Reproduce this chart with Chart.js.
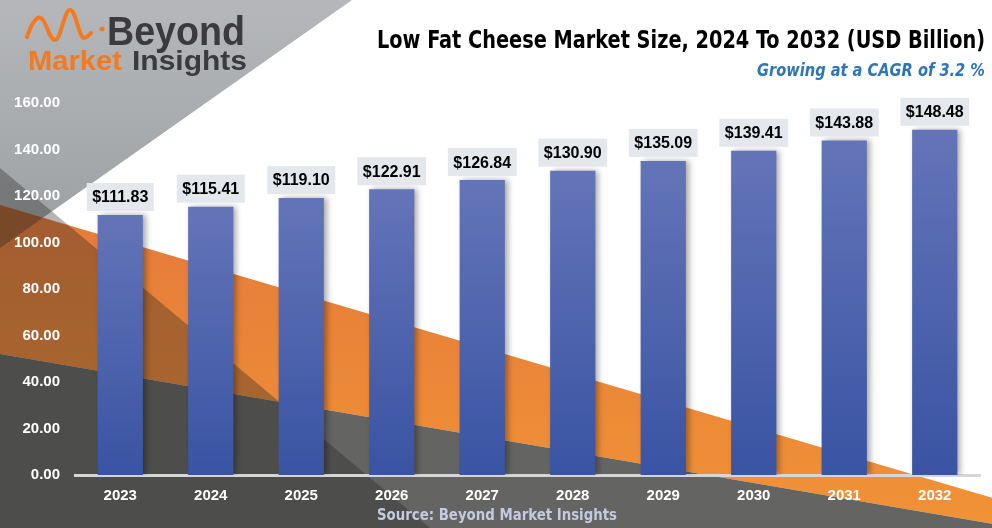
<!DOCTYPE html>
<html>
<head>
<meta charset="utf-8">
<script src="https://cdn.jsdelivr.net/npm/chart.js@4.4.1/dist/chart.umd.min.js"></script>
<style>
  html, body { margin: 0; padding: 0; background: #fff; overflow: hidden; }
  canvas { display: block; }
</style>
</head>
<body>
<canvas id="marketChart" width="992" height="528"></canvas>
<script>
// chart data
const years = ['2023', '2024', '2025', '2026', '2027', '2028', '2029', '2030', '2031', '2032'];
const marketSize = [111.83, 115.41, 119.10, 122.91, 126.84, 130.90, 135.09, 139.41, 143.88, 148.48];
const yMin = 0;
const yMax = 160;
const yStep = 20;

const titleText = 'Low Fat Cheese Market Size, 2024 To 2032 (USD Billion)';
const subtitleText = 'Growing at a CAGR of 3.2 %';
const sourceText = 'Source: Beyond Market Insights';

const SANS = '"Liberation Sans", Arial, sans-serif';
const NARROW = '"Liberation Sans Narrow", "DejaVu Sans Condensed", "Liberation Sans", sans-serif';

function poly(c, pts) {
    c.beginPath();
    c.moveTo(pts[0][0], pts[0][1]);
    for (let i = 1; i < pts.length; i++) c.lineTo(pts[i][0], pts[i][1]);
    c.closePath();
}

// squeeze or stretch text horizontally so it covers the given width
function fitText(c, text, x, y, width, align) {
    const w = c.measureText(text).width;
    c.save();
    c.translate(x, y);
    c.scale(width / w, 1);
    c.textAlign = align;
    c.fillText(text, 0, 0);
    c.restore();
}

// decorative background shapes
const backdrop = {
    id: 'backdrop',
    beforeDraw(chart) {
        const c = chart.ctx, W = chart.width, H = chart.height;
        const bandTop = x => 205 + 0.295 * x;
        const bandBot = x => 354 + 0.171 * x;
        const tri = [[0, 0], [352, 0], [0, 248]];
        const band = [[0, bandTop(0)], [W, bandTop(W)], [W, bandBot(W)], [0, bandBot(0)]];
        c.save();
        c.fillStyle = '#fff';
        c.fillRect(0, 0, W, H);

        let g = c.createLinearGradient(0, 0, 0, 250);
        g.addColorStop(0, '#b5b7ba');
        g.addColorStop(1, '#9c9fa2');
        poly(c, tri);
        c.fillStyle = g;
        c.fill();

        g = c.createLinearGradient(0, 200, 0, 520);
        g.addColorStop(0, '#e47a3a');
        g.addColorStop(1, '#f19236');
        poly(c, band);
        c.fillStyle = g;
        c.fill();

        c.save();
        poly(c, tri);
        c.clip();
        poly(c, band);
        c.fillStyle = 'rgba(70,50,30,0.4)';
        c.fill();
        c.restore();

        poly(c, [[0, bandBot(0)], [W, bandBot(W)], [W, H], [0, H]]);
        c.fillStyle = '#646463';
        c.fill();

        poly(c, [[0, 168], [430, 528], [0, 528]]);
        c.fillStyle = 'rgba(30,30,30,0.33)';
        c.fill();
        c.restore();
    }
};

const barShadow = {
    id: 'barShadow',
    beforeDatasetsDraw(chart) {
        const c = chart.ctx;
        c.save();
        c.shadowColor = 'rgba(0,0,0,0.35)';
        c.shadowBlur = 6;
        c.shadowOffsetX = 3;
        c.shadowOffsetY = 0;
    },
    afterDatasetsDraw(chart) {
        chart.ctx.restore();
    }
};

const valueLabels = {
    id: 'valueLabels',
    afterDatasetsDraw(chart) {
        const c = chart.ctx;
        const meta = chart.getDatasetMeta(0);
        c.save();
        c.font = 'bold 16px ' + SANS;
        c.textAlign = 'center';
        c.textBaseline = 'middle';
        meta.data.forEach((bar, i) => {
            const txt = '$' + marketSize[i].toFixed(2);
            const w = c.measureText(txt).width + 11;
            const h = 28;
            const by = bar.y - 4 - h;
            c.fillStyle = '#e4e7ec';
            c.fillRect(bar.x - w / 2, by, w, h);
            c.fillStyle = '#000';
            c.fillText(txt, bar.x, by + h / 2 + 1);
        });
        c.restore();
    }
};

const header = {
    id: 'header',
    afterDraw(chart) {
        const c = chart.ctx;
        c.save();
        c.textBaseline = 'alphabetic';

        // logo wave
        c.strokeStyle = '#f37a1f';
        c.lineWidth = 4;
        c.lineCap = 'round';
        c.beginPath();
        c.moveTo(27, 37);
        c.bezierCurveTo(32, 22, 37, 16, 41, 18);
        c.bezierCurveTo(46, 20, 49, 40, 55, 40);
        c.bezierCurveTo(61, 40, 64, 10, 70, 10);
        c.bezierCurveTo(76, 10, 79, 38, 84, 38);
        c.bezierCurveTo(87, 38, 89, 35, 91, 33);
        c.stroke();
        c.fillStyle = '#f37a1f';
        c.beginPath();
        c.arc(102, 29, 2.5, 0, Math.PI * 2);
        c.fill();

        c.font = 'bold 40px ' + SANS;
        c.fillStyle = '#3b3b3d';
        fitText(c, 'Beyond', 107, 45, 138, 'left');
        c.font = 'bold 28px ' + SANS;
        c.fillStyle = '#f37a1f';
        fitText(c, 'Market', 28, 70, 94, 'left');
        c.fillStyle = '#3b3b3d';
        fitText(c, 'Insights', 132, 70, 115, 'left');

        // title and subtitle
        c.fillStyle = '#000';
        c.font = 'bold 24px ' + NARROW;
        fitText(c, titleText, 985, 48, 608, 'right');
        c.fillStyle = '#2e75b6';
        c.font = 'italic bold 18px ' + NARROW;
        fitText(c, subtitleText, 985, 76, 228, 'right');

        // source
        c.fillStyle = '#c5cae0';
        c.font = 'bold 16px ' + NARROW;
        fitText(c, sourceText, 497, 520, 240, 'center');
        c.restore();
    }
};

new Chart(document.getElementById('marketChart'), {
    type: 'bar',
    data: {
        labels: years,
        datasets: [{
            data: marketSize,
            borderWidth: 0,
            barPercentage: 0.5,
            categoryPercentage: 1.0,
            backgroundColor: (ctx) => {
                const chart = ctx.chart;
                if (!chart.chartArea || ctx.raw === undefined) return '#4d62ad';
                const y = chart.scales.y;
                const top = y.getPixelForValue(ctx.raw);
                const base = y.getPixelForValue(0);
                const g = chart.ctx.createLinearGradient(0, top, 0, base);
                g.addColorStop(0, '#6474b8');
                g.addColorStop(1, '#3954a3');
                return g;
            }
        }]
    },
    options: {
        responsive: false,
        animation: false,
        layout: { padding: { top: 103, right: 12, bottom: 0, left: 0 } },
        plugins: {
            legend: { display: false },
            tooltip: { enabled: false },
            title: { display: false }
        },
        scales: {
            x: {
                grid: { display: false, drawTicks: false },
                border: { display: true, color: '#d6d6d6', width: 3 },
                ticks: {
                    color: '#fff',
                    font: { family: SANS, weight: 'bold', size: 15 },
                    padding: 12
                },
                afterFit(scale) { scale.height = 53; }
            },
            y: {
                min: yMin,
                max: yMax,
                grid: { display: false, drawTicks: false },
                border: { display: false },
                ticks: {
                    stepSize: yStep,
                    color: '#fff',
                    font: { family: SANS, weight: 'bold', size: 15 },
                    padding: 15,
                    callback: v => v.toFixed(2)
                },
                afterFit(scale) { scale.width = 75; }
            }
        }
    },
    plugins: [backdrop, barShadow, valueLabels, header]
});
</script>
</body>
</html>
